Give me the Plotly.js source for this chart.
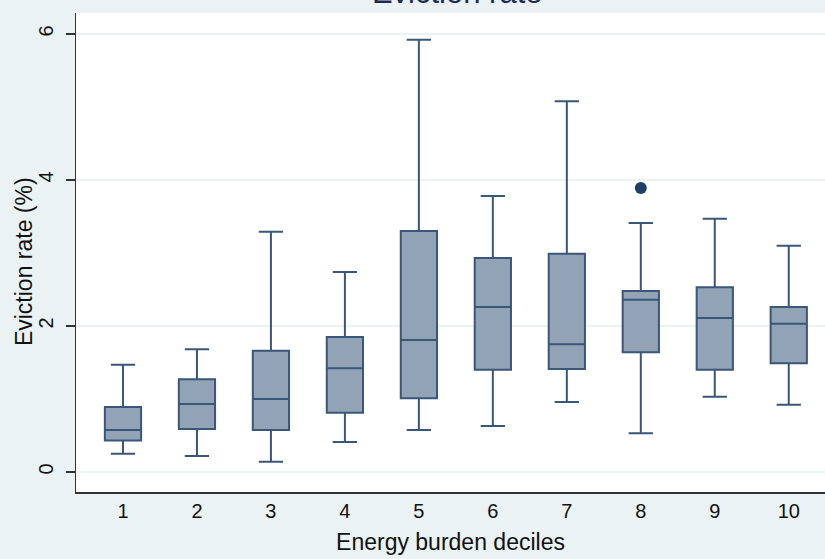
<!DOCTYPE html>
<html>
<head>
<meta charset="utf-8">
<script src="https://cdn.plot.ly/plotly-3.0.1.min.js"></script>
<style>html,body{margin:0;padding:0;background:#eaf2f3;}#chart{width:825px;height:559px;}</style>
</head>
<body>
<div id="chart"></div>
<script>
// Energy burden deciles
const deciles = [1, 2, 3, 4, 5, 6, 7, 8, 9, 10];
const tickLabels = ["1", "2", "3", "4", "5", "6", "7", "8", "9", "10"];
// Box statistics (eviction rate, %)
const lowerWhisker = [0.25, 0.22, 0.14, 0.41, 0.575, 0.63, 0.96, 0.53, 1.03, 0.92];
const q1Values     = [0.43, 0.59, 0.575, 0.81, 1.01, 1.40, 1.41, 1.64, 1.40, 1.49];
const medianValues = [0.575, 0.93, 1.00, 1.42, 1.81, 2.26, 1.75, 2.36, 2.11, 2.03];
const q3Values     = [0.89, 1.27, 1.66, 1.85, 3.30, 2.93, 2.99, 2.48, 2.53, 2.26];
const upperWhisker = [1.47, 1.68, 3.29, 2.74, 5.92, 3.78, 5.08, 3.41, 3.47, 3.10];
// Outliers
const outlierX = [8];
const outlierY = [3.89];

const FONT = 'Liberation Sans, Arial, sans-serif';

const boxTrace = {
  type: 'box',
  x: deciles,
  q1: q1Values,
  median: medianValues,
  q3: q3Values,
  lowerfence: lowerWhisker,
  upperfence: upperWhisker,
  width: 0.49,
  whiskerwidth: 0.67,
  fillcolor: '#91a3b5',
  line: {color: '#3a5679', width: 2},
  boxpoints: false,
  hoverinfo: 'skip',
  showlegend: false
};
const outlierTrace = {
  type: 'scatter',
  mode: 'markers',
  x: outlierX,
  y: outlierY,
  marker: {color: '#1f3f66', size: 12},
  showlegend: false,
  hoverinfo: 'skip'
};

const layout = {
  width: 825,
  height: 559,
  paper_bgcolor: '#eaf2f3',
  plot_bgcolor: '#ffffff',
  margin: {l: 76, r: 0, t: 13, b: 67, pad: 0},
  font: {family: FONT, color: '#000000'},
  title: {
    text: 'Eviction rate',
    font: {size: 31, color: '#1b2a55', family: FONT},
    x: 0.509, xref: 'paper', xanchor: 'center',
    y: 0.994, yref: 'container', yanchor: 'bottom'
  },
  xaxis: {
    type: 'linear',
    range: [0.365, 10.49],
    tickmode: 'array',
    tickvals: deciles,
    ticktext: tickLabels,
    ticks: '',
    showgrid: false,
    zeroline: false,
    showline: true,
    linecolor: '#333333',
    linewidth: 1.5,
    tickfont: {size: 20, color: '#111111', family: FONT},
    title: {text: 'Energy burden deciles', font: {size: 23, color: '#111111', family: FONT}, standoff: 13}
  },
  yaxis: {
    range: [-0.274, 6.288],
    tickmode: 'array',
    tickvals: [0, 2, 4, 6],
    ticktext: ['0', '2', '4', '6'],
    tickangle: -90,
    ticks: 'outside',
    ticklen: 9,
    tickcolor: '#333333',
    tickwidth: 1.2,
    ticklabelstandoff: 5,
    showgrid: true,
    gridcolor: '#eaf2f3',
    gridwidth: 1.5,
    zeroline: false,
    showline: true,
    linecolor: '#333333',
    linewidth: 1.5,
    tickfont: {size: 20, color: '#111111', family: FONT}
  },
  annotations: [{
    text: 'Eviction rate (%)',
    textangle: -90,
    font: {size: 23, color: '#111111', family: FONT},
    xref: 'paper', yref: 'paper',
    x: -0.0694, y: 0.48,
    xanchor: 'center', yanchor: 'middle',
    showarrow: false
  }]
};

Plotly.newPlot('chart', [boxTrace, outlierTrace], layout, {displayModeBar: false, staticPlot: true});
</script>
</body>
</html>
